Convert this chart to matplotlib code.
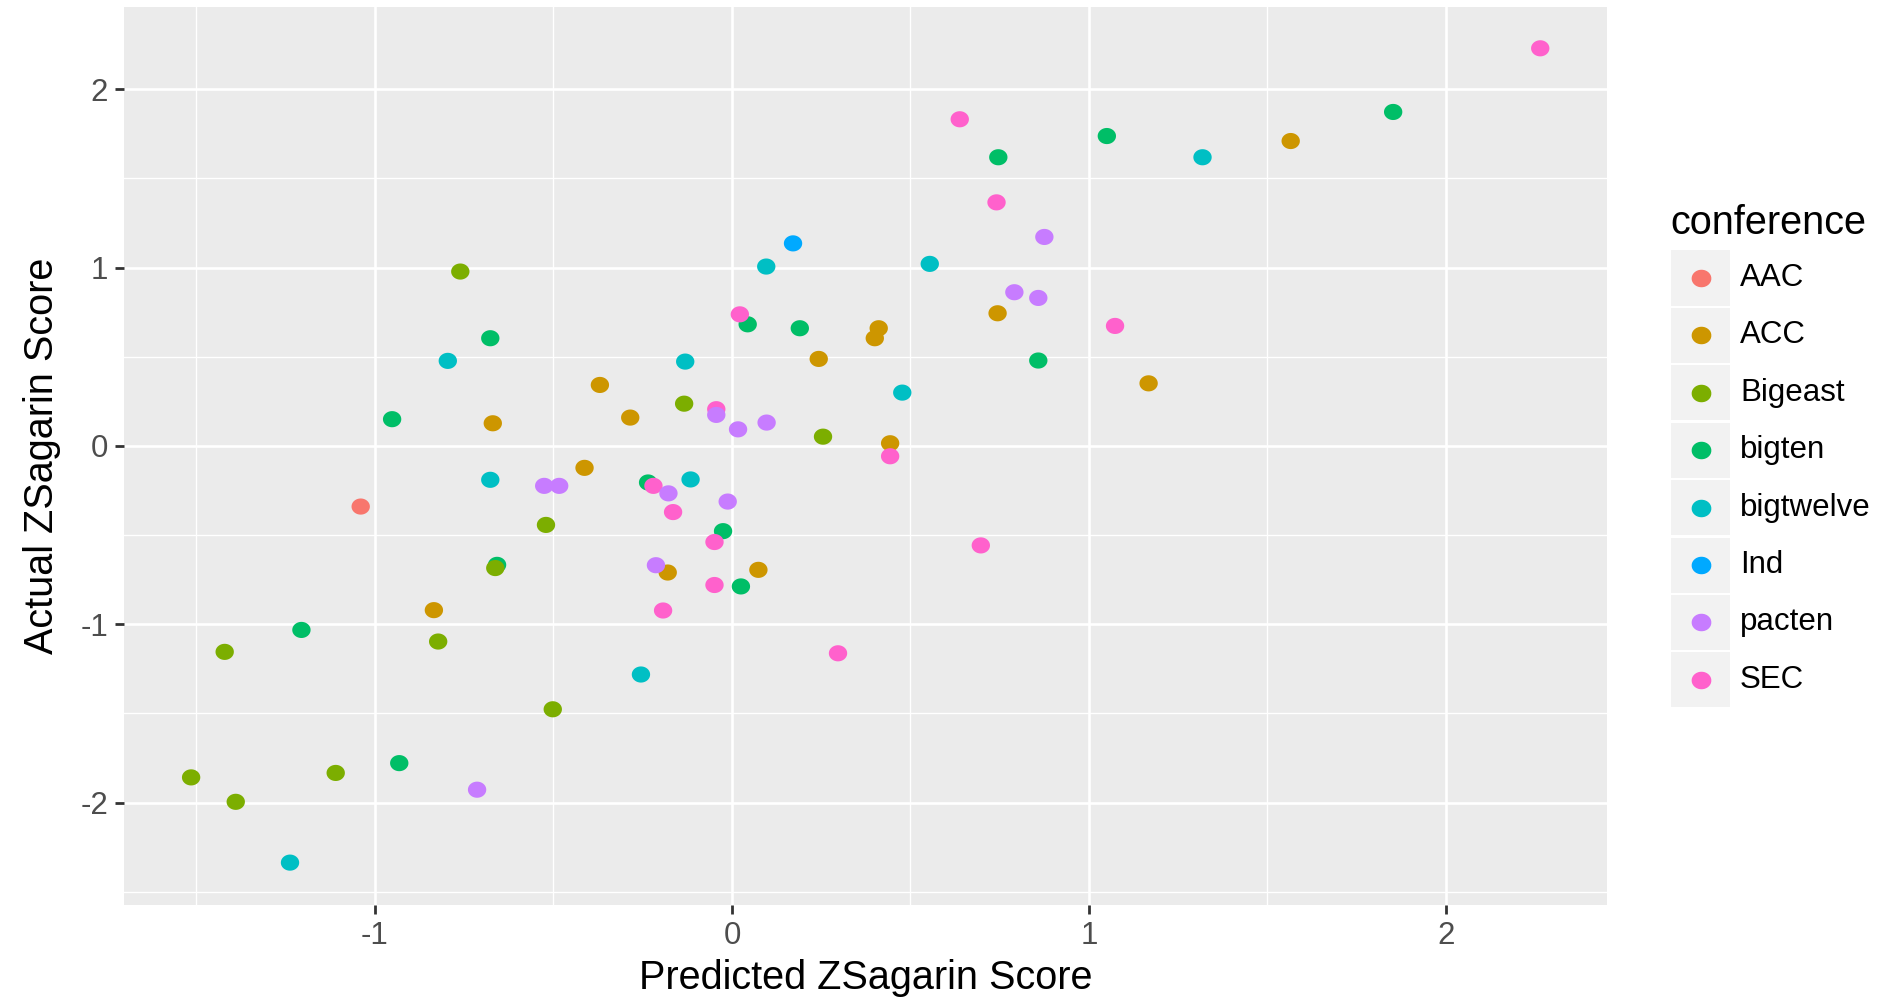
import numpy as np
import matplotlib
matplotlib.use("Agg")
import matplotlib.pyplot as plt
from matplotlib.patches import Rectangle
from matplotlib.lines import Line2D

plt.rcParams['font.family'] = ['Liberation Sans', 'DejaVu Sans']

# predicted (x) and actual (y) ZSagarin scores, by conference
aac_x = [-1.04]
aac_y = [-0.34]

acc_x = [-0.37, -0.285, -0.67, -0.413, 0.243, 0.411, 0.400, 0.443, 0.744, 1.167, 1.565, -0.835, -0.180, 0.074]
acc_y = [0.342, 0.159, 0.127, -0.123, 0.488, 0.660, 0.604, 0.015, 0.744, 0.351, 1.710, -0.921, -0.710, -0.695]

bigeast_x = [-0.761, -0.134, 0.255, -0.521, -0.663, -0.823, -1.421, -0.502, -1.110, -1.515, -1.390]
bigeast_y = [0.978, 0.237, 0.052, -0.443, -0.685, -1.097, -1.155, -1.477, -1.834, -1.859, -1.996]

bigten_x = [0.746, 1.050, 1.852, 0.044, 0.190, -0.677, -0.952, 0.858, -0.235, -0.025, -0.658, 0.025, -1.206, -0.932]
bigten_y = [1.619, 1.738, 1.873, 0.682, 0.660, 0.604, 0.150, 0.479, -0.205, -0.478, -0.667, -0.788, -1.032, -1.779]

bigtwelve_x = [1.318, 0.554, 0.096, -0.796, -0.131, 0.477, -0.677, -0.116, -0.255, -1.238]
bigtwelve_y = [1.619, 1.021, 1.006, 0.477, 0.473, 0.299, -0.190, -0.188, -1.282, -2.337]

ind_x = [0.171]
ind_y = [1.136]

pacten_x = [0.875, 0.791, 0.858, -0.044, 0.017, 0.097, -0.526, -0.484, -0.178, -0.012, -0.213, -0.714]
pacten_y = [1.172, 0.862, 0.830, 0.174, 0.093, 0.131, -0.224, -0.224, -0.266, -0.312, -0.669, -1.928]

sec_x = [2.264, 0.638, 0.741, 0.022, 1.073, -0.044, 0.443, -0.220, -0.165, -0.049, 0.697, -0.049, -0.193, 0.297]
sec_y = [2.230, 1.832, 1.366, 0.738, 0.673, 0.206, -0.058, -0.224, -0.371, -0.539, -0.558, -0.780, -0.923, -1.163]

conferences = ['AAC', 'ACC', 'Bigeast', 'bigten', 'bigtwelve', 'Ind', 'pacten', 'SEC']
colors = ['#F8766D', '#CD9600', '#7CAE00', '#00BE67', '#00BFC4', '#00A9FF', '#C77CFF', '#FF61CC']
series = {
    'AAC': (aac_x, aac_y),
    'ACC': (acc_x, acc_y),
    'Bigeast': (bigeast_x, bigeast_y),
    'bigten': (bigten_x, bigten_y),
    'bigtwelve': (bigtwelve_x, bigtwelve_y),
    'Ind': (ind_x, ind_y),
    'pacten': (pacten_x, pacten_y),
    'SEC': (sec_x, sec_y),
}
draw_order = ['AAC', 'ACC', 'bigten', 'SEC', 'Bigeast', 'bigtwelve', 'Ind', 'pacten']

xticks = [-1, 0, 1, 2]
yticks = [-2, -1, 0, 1, 2]

W, H = 1880, 997
fig = plt.figure(figsize=(W / 100, H / 100), dpi=100)
fig.patch.set_facecolor('white')

# panel placement in pixels (left, top, right, bottom)
pl, pt, pr, pb = 124, 7.3, 1607, 904.7
ax = fig.add_axes([pl / W, 1 - pb / H, (pr - pl) / W, (pb - pt) / H])
ax.set_facecolor('#EBEBEB')
for s in ax.spines.values():
    s.set_visible(False)

ax.set_xlim(-1.703, 2.451)
ax.set_ylim(-2.573, 2.46)
ax.set_xticks(xticks)
ax.set_yticks(yticks)
ax.set_xticks([-1.5, -0.5, 0.5, 1.5], minor=True)
ax.set_yticks([-2.5, -1.5, -0.5, 0.5, 1.5], minor=True)
ax.grid(True, which='major', color='white', linewidth=1.9)
ax.grid(True, which='minor', color='white', linewidth=0.95)
ax.set_axisbelow(True)
ax.tick_params(which='major', length=6.5, width=2, color='#333333',
               labelsize=22.5, labelcolor='#4D4D4D', pad=5)
ax.tick_params(which='minor', length=0)
ax.set_xticklabels([str(t) for t in xticks])
ax.set_yticklabels([str(t) for t in yticks])

# slightly wide dots, as in the reference
t = np.linspace(0, 2 * np.pi, 40)
dot = np.column_stack([np.cos(t), 0.88 * np.sin(t)])

for name in draw_order:
    xs, ys = series[name]
    c = colors[conferences.index(name)]
    ax.scatter(xs, ys, s=175, marker=dot, color=c, edgecolors='none', zorder=3)

ax.set_xlabel('Predicted ZSagarin Score', fontsize=28.5, color='black', labelpad=6)
ax.set_ylabel('Actual ZSagarin Score', fontsize=28.5, color='black', labelpad=14)

# legend drawn ggplot-style
def fy(y):
    return 1 - y / H

fig.text(1670 / W, fy(223), 'conference', fontsize=28.5, va='center', ha='left')
for i, (name, c) in enumerate(zip(conferences, colors)):
    cy = 278 + i * 57.4
    fig.patches.append(Rectangle((1671 / W, fy(cy + 27.5)), 59 / W, 55 / H,
                                 transform=fig.transFigure, facecolor='#F2F2F2',
                                 edgecolor='none'))
    fig.lines.append(Line2D([1701 / W], [fy(cy)], transform=fig.transFigure,
                            marker=dot, markersize=13.2, color=c, linestyle='none'))
    fig.text(1740 / W, fy(cy), name, fontsize=22.5, va='center', ha='left')

fig.savefig('out.png', dpi=100)
